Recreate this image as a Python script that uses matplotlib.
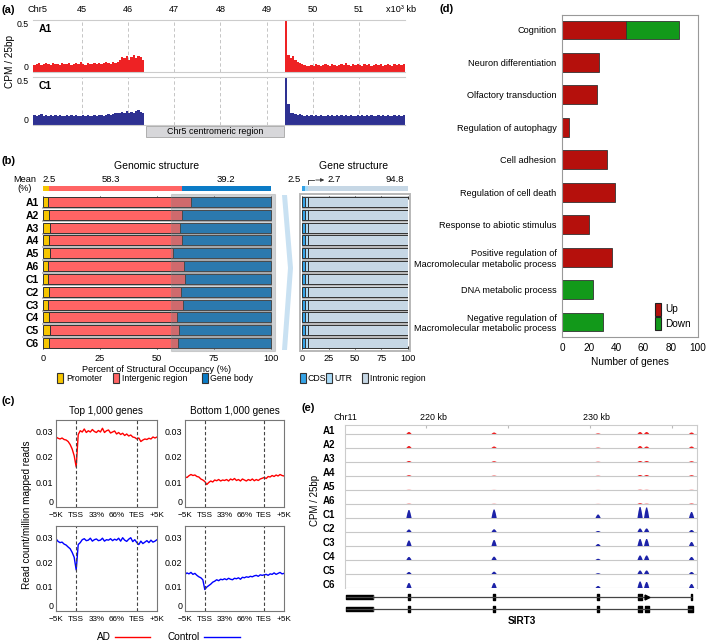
import numpy as np
import matplotlib
matplotlib.use("Agg")
import matplotlib.pyplot as plt
from matplotlib.patches import Rectangle, Polygon, Patch

plt.rcParams['font.family'] = ['Liberation Sans', 'DejaVu Sans']

W, H = 709, 643

# ---------------- (a) Chr5 tracks, 0.05 Mb bins (x10^3 kb) ----------------
a_bin = 0.05
a_left_start = 43.95
a_right_start = 49.40
a_ticks = [45, 46, 47, 48, 49, 50, 51]
a1_left = [0.07, 0.08, 0.09, 0.07, 0.08, 0.09, 0.08, 0.07, 0.09, 0.08,
           0.08, 0.07, 0.09, 0.08, 0.08, 0.09, 0.07, 0.08, 0.09, 0.08,
           0.10, 0.08, 0.07, 0.09, 0.08, 0.08, 0.09, 0.08, 0.09, 0.08,
           0.09, 0.10, 0.09, 0.08, 0.10, 0.09, 0.10, 0.12, 0.14, 0.13,
           0.15, 0.12, 0.14, 0.16, 0.13, 0.15, 0.14, 0.12]
a1_right = [0.50, 0.16, 0.13, 0.15, 0.12, 0.10, 0.09, 0.08, 0.07, 0.06,
            0.06, 0.07, 0.06, 0.08, 0.07, 0.06, 0.07, 0.08, 0.07, 0.06,
            0.08, 0.07, 0.06, 0.07, 0.08, 0.07, 0.09, 0.07, 0.06, 0.08,
            0.07, 0.08, 0.07, 0.06, 0.08, 0.07, 0.08, 0.06, 0.07, 0.08,
            0.07, 0.08, 0.06, 0.07, 0.08, 0.07, 0.06, 0.08, 0.07, 0.08,
            0.07, 0.08]
c1_left = [0.10, 0.09, 0.10, 0.11, 0.09, 0.10, 0.09, 0.10, 0.09, 0.10,
           0.09, 0.10, 0.09, 0.09, 0.10, 0.09, 0.10, 0.09, 0.10, 0.09,
           0.09, 0.10, 0.09, 0.10, 0.09, 0.09, 0.10, 0.09, 0.10, 0.10,
           0.09, 0.10, 0.11, 0.10, 0.11, 0.12, 0.12, 0.13, 0.14, 0.13,
           0.15, 0.12, 0.14, 0.13, 0.15, 0.16, 0.14, 0.12]
c1_right = [0.50, 0.22, 0.13, 0.12, 0.11, 0.10, 0.11, 0.10, 0.09, 0.10,
            0.09, 0.10, 0.09, 0.10, 0.09, 0.10, 0.09, 0.09, 0.10, 0.09,
            0.10, 0.09, 0.10, 0.09, 0.10, 0.09, 0.10, 0.09, 0.10, 0.09,
            0.09, 0.10, 0.09, 0.10, 0.09, 0.10, 0.09, 0.10, 0.09, 0.09,
            0.10, 0.09, 0.10, 0.09, 0.10, 0.09, 0.09, 0.10, 0.09, 0.10,
            0.09, 0.10]

# ---------------- (b) structural occupancy (%) ----------------
b_samples = ['A1', 'A2', 'A3', 'A4', 'A5', 'A6', 'C1', 'C2', 'C3', 'C4', 'C5', 'C6']
b_promoter = [2.2, 2.8, 2.9, 2.7, 3.0, 2.3, 2.4, 2.6, 2.3, 2.8, 2.9, 2.7]
b_intergenic = [62.6, 58.1, 57.1, 58.3, 54.1, 59.4, 59.8, 57.8, 59.0, 55.8, 56.7, 56.6]
b_genebody = [35.2, 39.1, 40.0, 39.0, 42.9, 38.3, 37.8, 39.6, 38.7, 41.4, 40.4, 40.7]
b_mean_genomic = [2.5, 58.3, 39.2]
b_cds = [2.4, 2.5, 2.6, 2.5, 2.4, 2.6, 2.5, 2.4, 2.5, 2.6, 2.5, 2.4]
b_utr = [2.8, 2.6, 2.7, 2.6, 2.8, 2.7, 2.6, 2.7, 2.8, 2.6, 2.9, 3.0]
b_intronic = [94.8, 94.9, 94.7, 94.9, 94.8, 94.7, 94.9, 94.9, 94.7, 94.8, 94.6, 94.6]
b_mean_gene = [2.5, 2.7, 94.8]

# ---------------- (c) metagene profiles ----------------
c_xlabels = ['\u22125K', 'TSS', '33%', '66%', 'TES', '+5K']
c_top_ad = [0.0280, 0.0275, 0.0272, 0.0276, 0.0270, 0.0268, 0.0262, 0.0250, 0.0232, 0.0205,
            0.0160, 0.0290, 0.0305, 0.0300, 0.0312, 0.0298, 0.0305, 0.0300, 0.0310, 0.0302,
            0.0298, 0.0306, 0.0300, 0.0315, 0.0298, 0.0305, 0.0308, 0.0296, 0.0300, 0.0304,
            0.0292, 0.0298, 0.0290, 0.0295, 0.0286, 0.0292, 0.0284, 0.0288, 0.0280, 0.0278,
            0.0272, 0.0276, 0.0262, 0.0268, 0.0272, 0.0270, 0.0275, 0.0272, 0.0280, 0.0276,
            0.0280]
c_bot_ad = [0.0120, 0.0118, 0.0125, 0.0130, 0.0126, 0.0128, 0.0122, 0.0120, 0.0112, 0.0108,
            0.0102, 0.0090, 0.0098, 0.0104, 0.0100, 0.0108, 0.0105, 0.0110, 0.0104, 0.0108,
            0.0106, 0.0110, 0.0104, 0.0112, 0.0108, 0.0114, 0.0106, 0.0110, 0.0104, 0.0112,
            0.0108, 0.0104, 0.0110, 0.0106, 0.0112, 0.0105, 0.0110, 0.0106, 0.0112, 0.0115,
            0.0118, 0.0114, 0.0122, 0.0120, 0.0126, 0.0122, 0.0128, 0.0124, 0.0130, 0.0126,
            0.0124]
c_top_ctrl = [0.0296, 0.0285, 0.0280, 0.0282, 0.0274, 0.0270, 0.0262, 0.0255, 0.0240, 0.0220,
              0.0168, 0.0272, 0.0280, 0.0292, 0.0296, 0.0288, 0.0290, 0.0298, 0.0286, 0.0292,
              0.0295, 0.0288, 0.0290, 0.0298, 0.0286, 0.0292, 0.0290, 0.0296, 0.0288, 0.0294,
              0.0290, 0.0298, 0.0286, 0.0300, 0.0290, 0.0285, 0.0294, 0.0300, 0.0284, 0.0292,
              0.0280, 0.0272, 0.0286, 0.0276, 0.0282, 0.0288, 0.0280, 0.0290, 0.0282, 0.0286,
              0.0292]
c_bot_ctrl = [0.0150, 0.0156, 0.0152, 0.0158, 0.0150, 0.0154, 0.0146, 0.0140, 0.0136, 0.0128,
              0.0088, 0.0098, 0.0104, 0.0110, 0.0118, 0.0122, 0.0128, 0.0124, 0.0130, 0.0128,
              0.0132, 0.0128, 0.0134, 0.0130, 0.0128, 0.0134, 0.0132, 0.0136, 0.0130, 0.0138,
              0.0136, 0.0140, 0.0138, 0.0142, 0.0140, 0.0144, 0.0146, 0.0142, 0.0148, 0.0146,
              0.0148, 0.0150, 0.0146, 0.0152, 0.0150, 0.0156, 0.0150, 0.0154, 0.0158, 0.0152,
              0.0154]

# ---------------- (d) GO terms ----------------
d_terms = ['Cognition', 'Neuron differentiation', 'Olfactory transduction',
           'Regulation of autophagy', 'Cell adhesion', 'Regulation of cell death',
           'Response to abiotic stimulus',
           'Positive regulation of\nMacromolecular metabolic process',
           'DNA metabolic process',
           'Negative regulation of\nMacromolecular metabolic process']
d_up = [47, 27, 26, 5, 33, 39, 20, 37, 0, 0]
d_down = [39, 0, 0, 0, 0, 0, 0, 0, 23, 30]

# ---------------- (e) SIRT3 locus (kb) ----------------
e_samples = b_samples
e_peak_pos = [218.96, 224.15, 230.49, 233.05, 233.45, 236.19]
e_signal = [[2.0, 1.5, 0.6, 2.0, 2.0, 1.5],
            [2.0, 1.5, 0.4, 2.0, 1.5, 1.5],
            [1.0, 0.8, 0.3, 1.0, 1.0, 0.8],
            [0.8, 0.4, 0.3, 1.0, 1.0, 0.8],
            [0.2, 0.1, 0.1, 0.3, 0.2, 0.2],
            [0.3, 0.2, 0.1, 0.8, 0.3, 0.5],
            [8.0, 8.5, 3.5, 11.0, 10.5, 6.0],
            [2.5, 2.7, 1.0, 3.5, 3.5, 2.0],
            [5.5, 6.0, 2.0, 7.0, 7.0, 4.0],
            [3.0, 3.3, 1.2, 4.5, 4.5, 3.0],
            [2.0, 2.3, 0.8, 3.5, 3.5, 2.0],
            [5.0, 5.0, 2.0, 6.5, 6.0, 4.0]]
e_tx_start, e_tx_end, e_utr_end = 215.12, 236.19, 216.77
e_exons_top = [(218.89, 0.14), (224.09, 0.12), (230.45, 0.08), (232.92, 0.26), (236.14, 0.10)]
e_exons_bot = [(218.89, 0.14), (224.09, 0.12), (230.45, 0.08), (232.92, 0.26), (233.34, 0.24), (235.98, 0.30)]

RED_A, NAVY = '#ee2224', '#2e3192'
C_PROM, C_INTER, C_BODY = '#f7c600', '#ff6464', '#0b7bc6'
C_CDS, C_UTR, C_INTRON = '#35a3e6', '#a9daf6', '#c6d7e5'
D_RED, D_GREEN = '#b5100c', '#12991a'

fig = plt.figure(figsize=(W / 100, H / 100), dpi=100)


def add_ax(x0, y0, x1, y1):
    # pixel box (top-left origin) -> figure fraction
    return fig.add_axes([x0 / W, 1 - y1 / H, (x1 - x0) / W, (y1 - y0) / H])


# ======================= (a) =======================
def chr_track(ax, left, right, color):
    for start, vals in ((a_left_start, left), (a_right_start, right)):
        edges = start + a_bin * np.arange(len(vals) + 1)
        ax.stairs(vals, edges, fill=True, color=color, lw=0)
    ax.set_xlim(43.94, 52.0)
    ax.set_ylim(0, 0.5)
    ax.set_xticks(a_ticks)
    ax.grid(axis='x', color='#bbbbbb', ls=(0, (4, 3)), lw=0.6)
    ax.set_axisbelow(True)
    ax.set_yticks([0, 0.5], ['0', '0.5'])
    ax.tick_params(length=0, labelsize=6.3, pad=3)
    lab0, lab5 = ax.get_yticklabels()
    lab0.set_va('bottom')
    lab5.set_va('top')
    for s in ('left', 'right'):
        ax.spines[s].set_visible(False)
    for s in ('top', 'bottom'):
        ax.spines[s].set_color('#cccccc')
        ax.spines[s].set_linewidth(0.8)


axA1 = add_ax(33, 20, 405, 72)
chr_track(axA1, a1_left, a1_right, RED_A)
axA1.xaxis.tick_top()
axA1.set_xticklabels([str(t) for t in a_ticks])
axA1.tick_params(axis='x', labelsize=6.6, pad=4, length=0)
axA1.text(0.015, 0.76, 'A1', transform=axA1.transAxes, fontsize=7.5, fontweight='bold')

axC1 = add_ax(33, 77, 405, 125)
chr_track(axC1, c1_left, c1_right, NAVY)
axC1.set_xticklabels([])
axC1.text(0.015, 0.74, 'C1', transform=axC1.transAxes, fontsize=7.5, fontweight='bold')

# ======================= (b) =======================
rows = np.arange(len(b_samples))


def stacked_rows(ax, parts, colors):
    left = np.zeros(len(rows))
    for vals, col in zip(parts, colors):
        ax.barh(rows, vals, left=left, height=0.78, color=col,
                edgecolor='#333333', linewidth=0.7, zorder=2)
        left += np.array(vals)
    for y in rows[:-1] + 0.5:
        ax.axhline(y, color='#b4b4b4', lw=1.2, zorder=1)
    ax.set_ylim(11.5, -0.5)
    ax.set_xlim(-0.4, 100.4)
    ax.set_xticks([0, 25, 50, 75, 100])
    ax.tick_params(axis='x', labelsize=6.6, length=0, pad=3)
    ax.tick_params(axis='x', top=True, direction='in', length=2.5, width=0.6)
    for s in ax.spines.values():
        s.set_visible(False)


def mean_bar(ax, vals, colors):
    left = 0
    for v, c in zip(vals, colors):
        ax.barh([0], [v], left=left, height=1, color=c, lw=0)
        left += v
    ax.set_xlim(-0.4, 100.4)
    ax.set_ylim(-0.5, 0.5)
    ax.axis('off')


axG = add_ax(42, 195.6, 272, 349.4)
stacked_rows(axG, [b_promoter, b_intergenic, b_genebody], [C_PROM, C_INTER, C_BODY])
axG.set_yticks(rows, b_samples, fontsize=7.5, fontweight='bold')
axG.tick_params(axis='y', length=0, pad=2)
axG.set_xlabel('Percent of Structural Occupancy (%)', fontsize=6.6, labelpad=2)
axG.add_patch(Rectangle((56, -0.62), 45.8, 12.24, fc='#6f7780', alpha=0.33,
                        ec='#8a8a8a', lw=0.8, clip_on=False, zorder=3))

axGm = add_ax(42, 185.5, 272, 190.5)
mean_bar(axGm, b_mean_genomic, [C_PROM, C_INTER, C_BODY])
tr = axGm.get_xaxis_transform()
axGm.text(0, 2.3, f'{b_mean_genomic[0]}', transform=tr, ha='left', va='center', fontsize=6.8)
axGm.text(b_mean_genomic[0] + b_mean_genomic[1] / 2 - 2, 2.3, f'{b_mean_genomic[1]}',
          transform=tr, ha='center', va='center', fontsize=6.8)
axGm.text(100 - b_mean_genomic[2] / 2, 2.3, f'{b_mean_genomic[2]}',
          transform=tr, ha='center', va='center', fontsize=6.8)

axS = add_ax(302, 195.6, 408, 349.4)
axS.set_facecolor('#d2d6da')
stacked_rows(axS, [b_cds, b_utr, b_intronic], [C_CDS, C_UTR, C_INTRON])
axS.set_yticks([])
axS.patch.set_visible(True)

axSm = add_ax(302, 185.5, 408, 190.5)
mean_bar(axSm, b_mean_gene, [C_CDS, C_UTR, C_INTRON])

# ======================= (c) =======================
c_x = np.arange(len(c_top_ad)) / 10.0


def profile(ax, y, color):
    ax.plot(c_x, y, color=color, lw=1.0)
    for xv in (1, 4):
        ax.axvline(xv, color='#444444', ls=(0, (3, 2)), lw=0.8)
    ax.set_xlim(0, 5)
    ax.set_ylim(0, 0.0348)
    ax.set_xticks(range(6), c_xlabels)
    ax.set_yticks([0, 0.01, 0.02, 0.03], ['0', '0.01', '0.02', '0.03'])
    ax.tick_params(axis='x', labelsize=5.9, length=0, pad=3.5)
    ax.tick_params(axis='y', labelsize=6.4, length=0, pad=2)
    ax.get_yticklabels()[0].set_va('bottom')
    for s in ax.spines.values():
        s.set_color('#777777')
        s.set_linewidth(0.8)


axTL = add_ax(56, 420, 157, 507)
profile(axTL, c_top_ad, '#ff0000')
axTR = add_ax(185, 420, 284, 507)
profile(axTR, c_bot_ad, '#ff0000')
axBL = add_ax(56, 526, 157, 611)
profile(axBL, c_top_ctrl, '#0000ff')
axBR = add_ax(185, 526, 284, 611)
profile(axBR, c_bot_ctrl, '#0000ff')

# ======================= (d) =======================
axD = add_ax(562, 15, 698, 337)
yd = np.arange(len(d_terms))
up = np.array(d_up)
down = np.array(d_down)
m = up > 0
axD.barh(yd[m], up[m], height=0.58, color=D_RED, edgecolor='#333333', lw=0.6)
m = down > 0
axD.barh(yd[m], down[m], left=up[m], height=0.58, color=D_GREEN, edgecolor='#333333', lw=0.6)
axD.set_ylim(9.46, -0.46)
axD.set_xlim(0, 100)
axD.set_yticks(yd, d_terms, fontsize=6.6)
axD.set_xticks(range(0, 101, 20))
axD.tick_params(axis='y', length=0, pad=4)
axD.tick_params(axis='x', length=0, labelsize=7.2, pad=4)
axD.set_xlabel('Number of genes', fontsize=7.3, labelpad=3)
for s in axD.spines.values():
    s.set_color('#999999')
    s.set_linewidth(0.8)
axD.legend(handles=[Patch(fc=D_RED, ec='#222222', lw=0.8, label='Up'),
                    Patch(fc=D_GREEN, ec='#222222', lw=0.8, label='Down')],
           loc='lower right', bbox_to_anchor=(1.0, 0.0), frameon=False, fontsize=7.2,
           handlelength=0.6, handleheight=1.6, handletextpad=0.4, labelspacing=0.15,
           borderaxespad=0.3)

# ======================= (e) =======================
axE = add_ax(345, 425, 697, 588)
e_half = 0.16
for i, sig in enumerate(e_signal):
    col = RED_A if e_samples[i].startswith('A') else '#1d23a8'
    base = i + 1
    for pos, h in zip(e_peak_pos, sig):
        h = h / 14.0
        xs = [pos - e_half, pos - 0.6 * e_half, pos - 0.2 * e_half,
              pos + 0.2 * e_half, pos + 0.6 * e_half, pos + e_half]
        ys = [base, base - 0.6 * h, base - h, base - h, base - 0.6 * h, base]
        axE.fill(xs, ys, color=col, lw=0, zorder=3)
    axE.axhline(base, color='#c8c8c8', lw=0.8, zorder=1)
axE.set_xlim(215.06, 236.52)
axE.set_ylim(12, 0.357)
axE.set_yticks(rows + 0.68, e_samples, fontsize=7, fontweight='bold')
axE.tick_params(axis='y', length=0, pad=7)
axE.set_xticks([220, 225, 230, 235])
axE.tick_params(axis='x', top=True, bottom=False, labelbottom=False,
                direction='in', length=2, color='#bbbbbb')
for s in axE.spines.values():
    s.set_color('#cccccc')
    s.set_linewidth(0.8)
axE.spines['bottom'].set_visible(False)

axT = add_ax(345, 591, 697, 615)
axT.set_xlim(215.06, 236.52)
axT.set_ylim(2, 0)
axT.axis('off')
for yy, exons in ((0.5, e_exons_top), (1.5, e_exons_bot)):
    axT.hlines(yy, e_tx_start, e_tx_end, color='#444444', lw=0.9)
    axT.broken_barh([(e_tx_start, e_utr_end - e_tx_start)], (yy - 0.13, 0.26), color='black')
    axT.vlines(e_utr_end, yy - 0.2, yy + 0.2, color='#444444', lw=0.8)
    axT.broken_barh(exons, (yy - 0.25, 0.5), color='black')
axT.plot([233.48], [0.5], marker='>', ms=3.5, color='black', lw=0)

# ======================= overlay texts / decorations =======================
ov = fig.add_axes([0, 0, 1, 1])
ov.set_xlim(0, W)
ov.set_ylim(H, 0)
ov.axis('off')

for lab, x, y in (('(a)', 2, 10), ('(b)', 2, 161), ('(c)', 2, 401), ('(d)', 440, 9), ('(e)', 302, 408)):
    ov.text(x, y, lab, fontsize=8, fontweight='bold', ha='left', va='center')

# (a)
ov.text(28, 10, 'Chr5', fontsize=6.6, va='center')
ov.text(386, 10, 'x10\u00b3 kb', fontsize=6.6, va='center')
ov.text(10, 62, 'CPM / 25bp', fontsize=7.2, rotation=90, ha='center', va='center')
ov.add_patch(Rectangle((146, 126), 138, 11, fc='#d7d7da', ec='#a5a5a5', lw=0.6))
ov.text(215, 131.5, 'Chr5 centromeric region', fontsize=6.4, ha='center', va='center')

# (b)
ov.text(157, 166, 'Genomic structure', fontsize=7.5, ha='center', va='center')
ov.text(354, 166, 'Gene structure', fontsize=7.5, ha='center', va='center')
ov.text(25, 184, 'Mean\n(%)', fontsize=6.6, ha='center', va='center', linespacing=0.95)
ov.text(301, 179, f'{b_mean_gene[0]}', fontsize=6.8, ha='right', va='center')
ov.plot([308, 308, 314], [184, 180, 180], color='#333333', lw=0.6)
ov.annotate('', xy=(327, 180), xytext=(313, 180),
            arrowprops=dict(arrowstyle='-|>', color='#333333', lw=0.6, mutation_scale=5))
ov.text(327, 179, f'{b_mean_gene[1]}', fontsize=6.8, ha='left', va='center')
ov.text(395, 179, f'{b_mean_gene[2]}', fontsize=6.8, ha='center', va='center')
ov.add_patch(Rectangle((300, 194), 110, 157, fc='none', ec='#b8b8b8', lw=1.4))
ov.add_patch(Polygon([(282, 195), (287, 195), (293, 268), (287, 350), (282, 350), (288, 268)],
                     closed=True, fc='#c9e1f2', ec='none'))
for x, tx, col, txt in ((57, 66, C_PROM, 'Promoter'), (113, 122, C_INTER, 'Intergenic region'),
                        (202, 210, C_BODY, 'Gene body'), (300, 308, C_CDS, 'CDS'),
                        (326, 334, C_UTR, 'UTR'), (362, 370, C_INTRON, 'Intronic region')):
    ov.add_patch(Rectangle((x, 373), 6, 10, fc=col, ec='#333333', lw=0.8))
    ov.text(tx, 378.5, txt, fontsize=6.3, ha='left', va='center')

# (c)
ov.text(106, 411, 'Top 1,000 genes', fontsize=7.2, ha='center', va='center')
ov.text(235, 411, 'Bottom 1,000 genes', fontsize=7.2, ha='center', va='center')
ov.text(27, 515, 'Read count/million mapped reads', fontsize=7.2, rotation=90,
        ha='center', va='center')
ov.text(97, 637, 'AD', fontsize=7.2, ha='left', va='center')
ov.plot([115, 150], [637, 637], color='#ff0000', lw=1.0)
ov.text(167, 637, 'Control', fontsize=7.2, ha='left', va='center')
ov.plot([204, 240], [637, 637], color='#0000ff', lw=1.0)

# (e)
ov.text(333, 418, 'Chr11', fontsize=6.4, ha='left', va='center')
ov.text(420, 418, '220 kb', fontsize=6.4, ha='left', va='center')
ov.text(583, 418, '230 kb', fontsize=6.4, ha='left', va='center')
ov.text(315, 500, 'CPM / 25bp', fontsize=7, rotation=90, ha='center', va='center')
ov.text(522, 621, 'SIRT3', fontsize=7.2, fontweight='bold', ha='center', va='center')

fig.savefig('out.png', dpi=100)
